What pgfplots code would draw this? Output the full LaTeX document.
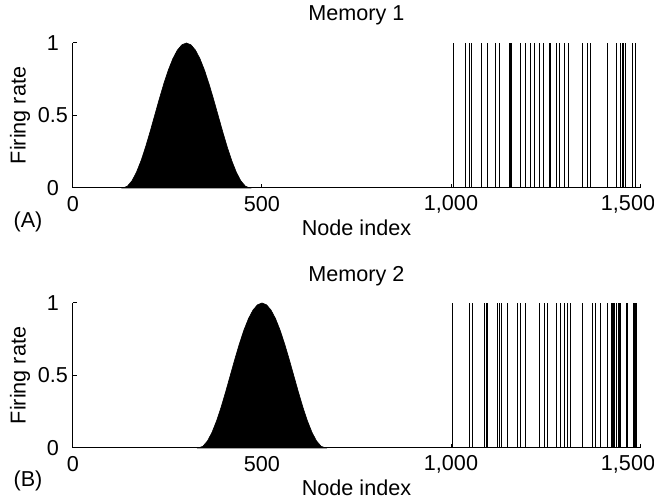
\documentclass[border=0pt]{standalone}
\usepackage{fontspec}
\setmainfont{Liberation Sans}
\usepackage{pgfplots}
\pgfplotsset{compat=1.18}

\newcommand{\lblfont}{\fontsize{10.8}{12}\selectfont}

\pgfplotsset{memstyle/.style={
  scale only axis, width=283.5pt, height=72.5pt,
  xmin=0, xmax=1500, ymin=0, ymax=1,
  axis x line*=bottom, axis y line*=left,
  axis line style={-, line width=0.5pt},
  xtick={0,500,1000,1500}, xticklabels={0,500,{1,000},{\kern-12pt 1,500}},
  ytick={0,0.5,1}, yticklabels={0,0.5,1},
  tick align=inside, major tick length=2pt,
  tick style={black, line width=0.5pt},
  ticklabel style={font=\lblfont},
  xticklabel style={anchor=center, yshift=-8pt},
  yticklabel style={anchor=center, xshift=-10pt},
  clip=false,
  xlabel={Node index}, ylabel={Firing rate},
  label style={font=\lblfont},
  xlabel style={at={(axis description cs:0.5,-0.276)}, anchor=center},
  ylabel style={at={(axis description cs:-0.0935,0.5)}, anchor=center},
}}

\begin{document}
\begin{tikzpicture}
\useasboundingbox (-36.5pt,94pt) rectangle (290.5pt,-157pt);

% (A) Memory 1
\begin{axis}[memstyle, at={(0,0)}]
\addplot[fill=black, draw=black, line width=0.3pt] coordinates {
(132,0) (144,0.0125) (156,0.0495) (168,0.1091) (180,0.1883) (192,0.2831)
(204,0.3887) (216,0.5) (228,0.6113) (240,0.7169) (252,0.8117) (264,0.8909)
(276,0.9505) (288,0.9875) (300,1) (312,0.9875) (324,0.9505) (336,0.8909)
(348,0.8117) (360,0.7169) (372,0.6113) (384,0.5) (396,0.3887) (408,0.2831)
(420,0.1883) (432,0.1091) (444,0.0495) (456,0.0125) (468,0)} \closedcycle;
\addplot[ycomb, black, line width=0.55pt, mark=none] coordinates {
(1007,1) (1039,1) (1049,1) (1054,1) (1080,1) (1096,1) (1117,1) (1128,1)
(1156,1) (1159,1) (1185,1) (1196,1) (1211,1) (1222,1) (1233,1) (1244,1)
(1262,1) (1279,1) (1286,1) (1301,1) (1310,1) (1347,1) (1361,1) (1369,1)
(1413,1) (1439,1) (1448,1) (1455,1) (1461,1) (1479,1) (1488,1)};
\node[font=\lblfont] at (axis description cs:0.5,1) [yshift=14pt] {Memory 1};
\node[font=\lblfont] at (axis description cs:0,0) [xshift=-22.5pt, yshift=-17pt] {(A)};
\end{axis}

% (B) Memory 2
\begin{axis}[memstyle, at={(0,-130pt)}]
\addplot[fill=black, draw=black, line width=0.3pt] coordinates {
(332,0) (344,0.0125) (356,0.0495) (368,0.1091) (380,0.1883) (392,0.2831)
(404,0.3887) (416,0.5) (428,0.6113) (440,0.7169) (452,0.8117) (464,0.8909)
(476,0.9505) (488,0.9875) (500,1) (512,0.9875) (524,0.9505) (536,0.8909)
(548,0.8117) (560,0.7169) (572,0.6113) (584,0.5) (596,0.3887) (608,0.2831)
(620,0.1883) (632,0.1091) (644,0.0495) (656,0.0125) (668,0)} \closedcycle;
\addplot[ycomb, black, line width=0.55pt, mark=none] coordinates {
(1004,1) (1050,1) (1056,1) (1089,1) (1093,1) (1097,1) (1122,1) (1128,1)
(1134,1) (1150,1) (1176,1) (1185,1) (1198,1) (1233,1) (1248,1) (1256,1)
(1280,1) (1289,1) (1301,1) (1308,1) (1317,1) (1347,1) (1374,1) (1382,1)
(1396,1) (1413,1) (1426,1) (1429,1) (1432,1) (1439,1) (1442,1) (1446,1)
(1448,1) (1464,1) (1467,1) (1484,1) (1487,1) (1491,1)};
\node[font=\lblfont] at (axis description cs:0.5,1) [yshift=13.5pt] {Memory 2};
\node[font=\lblfont] at (axis description cs:0,0) [xshift=-22.5pt, yshift=-16.5pt] {(B)};
\end{axis}
\end{tikzpicture}
\end{document}
